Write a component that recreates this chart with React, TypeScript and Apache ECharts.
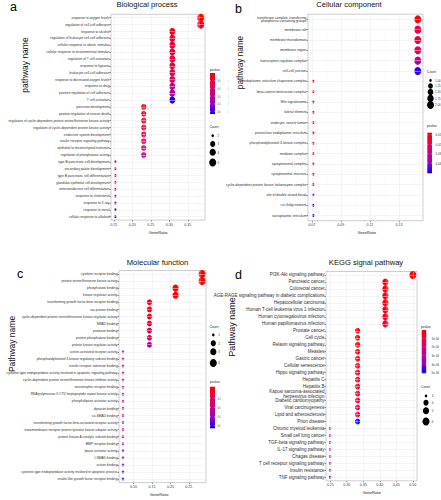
import React, { useEffect, useRef } from 'react';
import * as echarts from 'echarts';

// ---------------- a. Biological process ----------------
const bpTerms = [
  'response to oxygen levels',
  'regulation of cell-cell adhesion',
  'response to alcohol',
  'regulation of leukocyte cell-cell adhesion',
  'cellular response to abiotic stimulus',
  'cellular response to environmental stimulus',
  'regulation of T cell activation',
  'response to hypoxia',
  'leukocyte cell-cell adhesion',
  'response to decreased oxygen levels',
  'response to drug',
  'positive regulation of cell adhesion',
  'T cell activation',
  'pancreas development',
  'positive regulation of neuron death',
  'regulation of cyclin-dependent protein serine/threonine kinase activity',
  'regulation of cyclin-dependent protein kinase activity',
  'endocrine system development',
  'insulin receptor signaling pathway',
  'epithelial to mesenchymal transition',
  'regulation of phosphatase activity',
  'type B pancreatic cell development',
  'secondary palate development',
  'type B pancreatic cell differentiation',
  'glandular epithelial cell development',
  'enteroendocrine cell differentiation',
  'response to cholesterol',
  'response to X-ray',
  'response to sterol',
  'cellular response to alkaloid',
];
const bpGeneRatio = [
  0.385, 0.385,
  0.308, 0.308, 0.308, 0.308, 0.308, 0.308, 0.308, 0.308, 0.308, 0.308, 0.308,
  0.231, 0.231, 0.231, 0.231, 0.231, 0.231, 0.231, 0.231,
  0.154, 0.154, 0.154, 0.154, 0.154, 0.154, 0.154, 0.154, 0.154,
];
const bpCount = [
  5, 5,
  4, 4, 4, 4, 4, 4, 4, 4, 4, 4, 4,
  3, 3, 3, 3, 3, 3, 3, 3,
  2, 2, 2, 2, 2, 2, 2, 2, 2,
];
const bpPvalue = [
  1.2e-6, 2.2e-5,
  3.3e-5, 4.1e-5, 4.9e-5, 4.9e-5, 5.4e-5, 5.9e-5, 6.7e-5, 8.0e-5, 1.28e-4, 1.65e-4, 2.52e-4,
  1.9e-5, 2.2e-5, 3.3e-5, 4.1e-5, 5.4e-5, 7.5e-5, 9.3e-5, 1.65e-4,
  9.3e-5, 1.01e-4, 1.07e-4, 1.2e-4, 1.28e-4, 1.65e-4, 1.86e-4, 2.44e-4, 2.65e-4,
];
const bpPRange = [1.2e-6, 2.65e-4];
const bpTicks = [0.15, 0.2, 0.25, 0.3, 0.35];
const bpTickLabels = ['0.15', '0.20', '0.25', '0.30', '0.35'];
const bpMinor = [0.175, 0.225, 0.275, 0.325, 0.375];
const bpCountBreaks = [2, 3, 4, 5];
const bpCountLabels = ['2', '3', '4', '5'];
const bpPBreaks = [5e-5, 1e-4, 1.5e-4, 2e-4, 2.5e-4];
const bpPLabels = ['0.00005', '0.00010', '0.00015', '0.00020', '0.00025'];

// ---------------- b. Cellular component ----------------
const ccTerms = [
  'transferase complex, transferring\nphosphorus-containing groups',
  'membrane raft',
  'membrane microdomain',
  'membrane region',
  'transcription regulator complex',
  'cell-cell junction',
  'endoplasmic reticulum chaperone complex',
  'beta-catenin destruction complex',
  'Wnt signalosome',
  'lateral element',
  'endocytic vesicle lumen',
  'perinuclear endoplasmic reticulum',
  'phosphatidylinositol 3-kinase complex',
  'mediator complex',
  'synaptonemal complex',
  'synaptonemal structure',
  'cyclin-dependent protein kinase holoenzyme complex',
  'site of double-strand break',
  'cis-Golgi network',
  'sarcoplasmic reticulum',
];
const ccGeneRatio = [
  0.143, 0.143, 0.143, 0.143, 0.143, 0.143,
  0.071, 0.071, 0.071, 0.071, 0.071, 0.071, 0.071, 0.071, 0.071, 0.071, 0.071, 0.071, 0.071, 0.071,
];
const ccCount = [2, 2, 2, 2, 2, 2, 1, 1, 1, 1, 1, 1, 1, 1, 1, 1, 1, 1, 1, 1];
const ccPvalue = [
  0.0089, 0.0162, 0.0162, 0.0196, 0.0334, 0.0472,
  0.0076, 0.0085, 0.0093, 0.0093, 0.0102, 0.0119, 0.0141, 0.0184, 0.0205, 0.0205, 0.0227, 0.0377, 0.0484, 0.0506,
];
const ccPRange = [0.0076, 0.0506];
const ccTicks = [0.07, 0.09, 0.11, 0.13];
const ccTickLabels = ['0.07', '0.09', '0.11', '0.13'];
const ccMinor = [0.08, 0.1, 0.12, 0.14];
const ccCountBreaks = [1, 1.25, 1.5, 1.75, 2];
const ccCountLabels = ['1.00', '1.25', '1.50', '1.75', '2.00'];
const ccPBreaks = [0.01, 0.02, 0.03, 0.04];
const ccPLabels = ['0.01', '0.02', '0.03', '0.04'];

// ---------------- c. Molecular function ----------------
const mfTerms = [
  'cytokine receptor binding',
  'protein serine/threonine kinase activity',
  'phosphatase binding',
  'kinase regulator activity',
  'transforming growth factor beta receptor binding',
  'tau protein binding',
  'cyclin-dependent protein serine/threonine kinase regulator activity',
  'SMAD binding',
  'protease binding',
  'protein phosphatase binding',
  'protein kinase regulator activity',
  'activin-activated receptor activity',
  'phosphatidylinositol 3-kinase regulatory subunit binding',
  'insulin receptor substrate binding',
  'cysteine-type endopeptidase activity involved in apoptotic signaling pathway',
  'cyclin-dependent protein serine/threonine kinase inhibitor activity',
  'neurotrophin receptor binding',
  'RNA polymerase II CTD heptapeptide repeat kinase activity',
  'phospholipase activator activity',
  'dynactin binding',
  'co-SMAD binding',
  'transforming growth factor beta-activated receptor activity',
  'transmembrane receptor protein tyrosine kinase adaptor activity',
  'protein kinase A catalytic subunit binding',
  'BMP receptor binding',
  'lipase activator activity',
  'I-SMAD binding',
  'activin binding',
  'cysteine-type endopeptidase activity involved in apoptotic process',
  'insulin-like growth factor receptor binding',
];
const mfGeneRatio = [
  0.286, 0.286, 0.214, 0.214,
  0.143, 0.143, 0.143, 0.143, 0.143, 0.143, 0.143,
  0.071, 0.071, 0.071, 0.071, 0.071, 0.071, 0.071, 0.071, 0.071, 0.071,
  0.071, 0.071, 0.071, 0.071, 0.071, 0.071, 0.071, 0.071, 0.071,
];
const mfCount = [
  4, 4, 3, 3,
  2, 2, 2, 2, 2, 2, 2,
  1, 1, 1, 1, 1, 1, 1, 1, 1, 1, 1, 1, 1, 1, 1, 1, 1, 1, 1,
];
const mfPvalue = [
  0.0074, 0.0083, 0.0083, 0.0092,
  0.0101, 0.011, 0.0119, 0.0128, 0.0187, 0.0210, 0.0345,
  0.0255, 0.0255, 0.0264, 0.0277, 0.0300, 0.0309, 0.0323, 0.0345, 0.0345,
  0.0354, 0.0368, 0.0368, 0.0381, 0.0390, 0.0399, 0.0426, 0.0458, 0.0481, 0.0526,
];
const mfPRange = [0.0074, 0.0526];
const mfTicks = [0.1, 0.15, 0.2, 0.25];
const mfTickLabels = ['0.10', '0.15', '0.20', '0.25'];
const mfMinor = [0.075, 0.125, 0.175, 0.225, 0.275];
const mfCountBreaks = [1, 2, 3, 4];
const mfCountLabels = ['1', '2', '3', '4'];
const mfPBreaks = [0.02, 0.03, 0.04, 0.05];
const mfPLabels = ['0.02', '0.03', '0.04', '0.05'];

// ---------------- d. KEGG signal pathway ----------------
const kgTerms = [
  'PI3K-Akt signaling pathway',
  'Pancreatic cancer',
  'Colorectal cancer',
  'AGE-RAGE signaling pathway in diabetic complications',
  'Hepatocellular carcinoma',
  'Human T-cell leukemia virus 1 infection',
  'Human cytomegalovirus infection',
  'Human papillomavirus infection',
  'Prostate cancer',
  'Cell cycle',
  'Relaxin signaling pathway',
  'Measles',
  'Gastric cancer',
  'Cellular senescence',
  'Hippo signaling pathway',
  'Hepatitis C',
  'Hepatitis B',
  'Kaposi sarcoma-associated\nherpesvirus infection',
  'Diabetic cardiomyopathy',
  'Viral carcinogenesis',
  'Lipid and atherosclerosis',
  'Prion disease',
  'Chronic myeloid leukemia',
  'Small cell lung cancer',
  'TGF-beta signaling pathway',
  'IL-17 signaling pathway',
  'Chagas disease',
  'T cell receptor signaling pathway',
  'Insulin resistance',
  'TNF signaling pathway',
];
const kgGeneRatio = [
  0.5,
  0.417, 0.417, 0.417, 0.417, 0.417, 0.417, 0.417,
  0.333, 0.333, 0.333, 0.333, 0.333, 0.333, 0.333, 0.333, 0.333, 0.333, 0.333, 0.333, 0.333, 0.333,
  0.25, 0.25, 0.25, 0.25, 0.25, 0.25, 0.25, 0.25,
];
const kgCount = [
  6,
  5, 5, 5, 5, 5, 5, 5,
  4, 4, 4, 4, 4, 4, 4, 4, 4, 4, 4, 4, 4, 4,
  3, 3, 3, 3, 3, 3, 3, 3,
];
const kgPvalue = [
  1.2e-6,
  1.6e-5, 2.1e-5, 2.6e-5, 3.1e-5, 4.1e-5, 5.2e-5, 9.2e-5,
  1.1e-5, 1.6e-5, 2.1e-5, 2.6e-5, 3.1e-5, 3.6e-5, 4.1e-5, 5.2e-5, 5.2e-5, 7.7e-5, 9.2e-5, 1.02e-4, 1.27e-4, 5.07e-4,
  1.53e-4, 1.93e-4, 2.54e-4, 2.64e-4, 3.05e-4, 3.3e-4, 3.65e-4, 4.66e-4,
];
const kgPRange = [1.2e-6, 5.07e-4];
const kgTicks = [0.25, 0.3, 0.35, 0.4, 0.45, 0.5];
const kgTickLabels = ['0.25', '0.30', '0.35', '0.40', '0.45', '0.50'];
const kgMinor = [0.275, 0.325, 0.375, 0.425, 0.475];
const kgCountBreaks = [3, 4, 5, 6];
const kgCountLabels = ['3', '4', '5', '6'];
const kgPBreaks = [1e-4, 2e-4, 3e-4, 4e-4, 5e-4];
const kgPLabels = ['1e-04', '2e-04', '3e-04', '4e-04', '5e-04'];

// ---------------- styling ----------------
const RAMP = ['#FF0000', '#E80050', '#C90089', '#9A00C2', '#0000FF'];
const FONT = "'Liberation Sans', Arial, sans-serif";
const R_MIN = 2.5;
const R_MAX = 7.0;
const ELONG = 1.15;

const panels = [
  {
    terms: bpTerms, ratio: bpGeneRatio, count: bpCount, p: bpPvalue, pRange: bpPRange,
    ticks: bpTicks, tickLabels: bpTickLabels, minor: bpMinor,
    countBreaks: bpCountBreaks, countLabels: bpCountLabels, pBreaks: bpPBreaks, pLabels: bpPLabels,
    L: {
      grid: { left: 111, top: 14.3, width: 94, height: 205.8 }, labelSize: 3.3,
      title: { text: 'Biological process', x: 147, y: 4.5 },
      letter: { text: 'a', x: 13.5, y: 7 },
      yName: { text: 'pathway name', x: 25, y: 65, size: 8.5 },
      xName: { x: 158, y: 232.7 },
      pbar: { titleX: 210, titleY: 69.5, x: 210, y: 73, w: 5, h: 41, labelX: 217.8 },
      cnt: { titleX: 209.5, titleY: 127, dotX: 212.7, dotY: [135.7, 144, 152.2, 162.5], labelX: 217.5 },
    },
  },
  {
    terms: ccTerms, ratio: ccGeneRatio, count: ccCount, p: ccPvalue, pRange: ccPRange,
    ticks: ccTicks, tickLabels: ccTickLabels, minor: ccMinor,
    countBreaks: ccCountBreaks, countLabels: ccCountLabels, pBreaks: ccPBreaks, pLabels: ccPLabels,
    L: {
      grid: { left: 308, top: 14.2, width: 115, height: 206.5 }, labelSize: 3.4,
      title: { text: 'Cellular component', x: 349, y: 4.5 },
      letter: { text: 'b', x: 238.5, y: 9 },
      yName: { text: 'pathway name', x: 240, y: 62.5, size: 8.2 },
      xName: { x: 366.7, y: 232.7 },
      pbar: { titleX: 427, titleY: 125.5, x: 427.3, y: 132.7, w: 4.7, h: 40.6, labelX: 435.5 },
      cnt: { titleX: 427, titleY: 72, dotX: 430.5, dotY: [80.5, 86, 92, 98.5, 105], labelX: 435 },
    },
  },
  {
    terms: mfTerms, ratio: mfGeneRatio, count: mfCount, p: mfPvalue, pRange: mfPRange,
    ticks: mfTicks, tickLabels: mfTickLabels, minor: mfMinor,
    countBreaks: mfCountBreaks, countLabels: mfCountLabels, pBreaks: mfPBreaks, pLabels: mfPLabels,
    L: {
      grid: { left: 119, top: 270.5, width: 87, height: 212.1 }, labelSize: 3.3,
      title: { text: 'Molecular function', x: 157.5, y: 262 },
      letter: { text: 'c', x: 20, y: 274 },
      yName: { text: 'Pathway name', x: 11.5, y: 344, size: 8.5 },
      xName: { x: 159, y: 494 },
      pbar: { titleX: 210, titleY: 382, x: 210, y: 386.7, w: 5, h: 41.6, labelX: 217.8 },
      cnt: { titleX: 209.5, titleY: 326.5, dotX: 213.3, dotY: [335, 343.3, 351.7, 363], labelX: 218.3 },
    },
  },
  {
    terms: kgTerms, ratio: kgGeneRatio, count: kgCount, p: kgPvalue, pRange: kgPRange,
    ticks: kgTicks, tickLabels: kgTickLabels, minor: kgMinor,
    countBreaks: kgCountBreaks, countLabels: kgCountLabels, pBreaks: kgPBreaks, pLabels: kgPLabels,
    L: {
      grid: { left: 326, top: 271.5, width: 91, height: 209.3 }, labelSize: 4.5,
      title: { text: 'KEGG signal pathway', x: 366, y: 262.7 },
      letter: { text: 'd', x: 238.5, y: 275 },
      yName: { text: 'Pathway name', x: 232, y: 327, size: 9 },
      xName: { x: 371.7, y: 492.7 },
      pbar: { titleX: 421, titleY: 326.7, x: 421.7, y: 330, w: 4.5, h: 43.3, labelX: 431.5 },
      cnt: { titleX: 421, titleY: 386.7, dotX: 426, dotY: [396, 402.7, 410.7, 421.5], labelX: 431.7 },
    },
  },
];

function sizeFor(c: number, lo: number, hi: number) {
  const t = hi > lo ? (c - lo) / (hi - lo) : 1;
  return R_MIN + (R_MAX - R_MIN) * Math.sqrt(Math.max(0, t));
}

function buildOption() {
  const grids: any[] = [];
  const xAxes: any[] = [];
  const yAxes: any[] = [];
  const visualMaps: any[] = [];
  const dotSeries: any[] = [];
  const lineSeries: any[] = [];
  const g1: any[] = [];
  const g2: any[] = [];

  panels.forEach((P, k) => {
    const L = P.L;
    const lo = Math.min(...P.ratio);
    const hi = Math.max(...P.ratio);
    const pad = (hi - lo) * 0.05;
    const cLo = Math.min(...P.countBreaks);
    const cHi = Math.max(...P.countBreaks);

    grids.push({
      ...L.grid, show: true, borderColor: '#ABABAB', borderWidth: 0.6,
      backgroundColor: 'transparent', containLabel: false,
    });
    xAxes.push({
      type: 'value', gridIndex: k, min: lo - pad, max: hi + pad,
      axisLine: { show: false },
      splitLine: { show: false },
      minorSplitLine: { show: false },
      axisTick: { show: true, customValues: P.ticks, length: 1.5, lineStyle: { color: '#333', width: 0.5 } },
      axisLabel: {
        customValues: P.ticks,
        formatter: (v: number) => {
          const i = P.ticks.findIndex((t) => Math.abs(t - v) < 1e-9);
          return i >= 0 ? P.tickLabels[i] : '';
        },
        fontSize: 3.6, fontFamily: FONT, color: '#3A3A3A', margin: 2.5,
      },
    });
    yAxes.push({
      type: 'category', gridIndex: k, data: P.terms, inverse: true,
      axisLine: { show: false },
      splitLine: { show: false },
      axisTick: { show: true, alignWithLabel: true, length: 1.5, lineStyle: { color: '#333', width: 0.5 } },
      axisLabel: {
        interval: 0, fontSize: L.labelSize, lineHeight: L.labelSize * 1.1,
        fontFamily: FONT, color: '#2E2E2E', margin: 1.5,
      },
    });
    visualMaps.push({
      type: 'continuous', show: false, seriesIndex: k, dimension: 2,
      min: P.pRange[0], max: P.pRange[1], inRange: { color: RAMP },
    });
    dotSeries.push({
      type: 'scatter', xAxisIndex: k, yAxisIndex: k, z: 3,
      symbol: 'circle',
      symbolSize: (v: any) => {
        const w = sizeFor(v[3], cLo, cHi);
        return [w, w * ELONG];
      },
      itemStyle: { opacity: 1 },
      data: P.terms.map((t, i) => [P.ratio[i], t, P.p[i], P.count[i]]),
    });
    const major = { color: '#EBEBEB', width: 0.5, type: 'solid' };
    const minorS = { color: '#F4F4F4', width: 0.4, type: 'solid' };
    lineSeries.push({
      type: 'scatter', xAxisIndex: k, yAxisIndex: k, z: 1, silent: true, data: [],
      markLine: {
        silent: true, symbol: ['none', 'none'], label: { show: false },
        animation: false,
        data: [
          ...P.minor.map((v) => ({ xAxis: v, lineStyle: minorS })),
          ...P.ticks.map((v) => ({ xAxis: v, lineStyle: major })),
          ...P.terms.map((t) => ({ yAxis: t, lineStyle: major })),
        ],
      },
    });

    // texts
    const target = k === 0 || k === 2 ? g1 : g2;
    target.push({
      type: 'text', x: L.title.x, y: L.title.y,
      style: { text: L.title.text, fontSize: 7.6, fontFamily: FONT, fill: '#111', align: 'center', verticalAlign: 'middle' },
    });
    target.push({
      type: 'text', x: L.letter.x, y: L.letter.y,
      style: { text: L.letter.text, fontSize: 12.5, fontFamily: FONT, fill: '#000', align: 'center', verticalAlign: 'middle' },
    });
    target.push({
      type: 'text', x: L.xName.x, y: L.xName.y,
      style: { text: 'GeneRatio', fontSize: 3.9, fontFamily: FONT, fill: '#222', align: 'center', verticalAlign: 'middle' },
    });
    // colour bar legend
    const B = L.pbar;
    target.push({
      type: 'text', x: B.titleX, y: B.titleY,
      style: { text: 'pvalue', fontSize: 3.3, fontFamily: FONT, fill: '#222', align: 'left', verticalAlign: 'middle' },
    });
    target.push({
      type: 'rect', shape: { x: B.x, y: B.y, width: B.w, height: B.h },
      style: {
        fill: new echarts.graphic.LinearGradient(0, 0, 0, 1, RAMP.map((c, i) => ({ offset: i / (RAMP.length - 1), color: c }))),
      },
    });
    P.pBreaks.forEach((pb, i) => {
      const yy = B.y + ((pb - P.pRange[0]) / (P.pRange[1] - P.pRange[0])) * B.h;
      target.push({ type: 'line', shape: { x1: B.x, y1: yy, x2: B.x + 1, y2: yy }, style: { stroke: '#fff', lineWidth: 0.4 } });
      target.push({ type: 'line', shape: { x1: B.x + B.w - 1, y1: yy, x2: B.x + B.w, y2: yy }, style: { stroke: '#fff', lineWidth: 0.4 } });
      target.push({
        type: 'text', x: B.labelX, y: yy,
        style: { text: P.pLabels[i], fontSize: 2.9, fontFamily: FONT, fill: '#333', align: 'left', verticalAlign: 'middle' },
      });
    });
    // count legend
    const C = L.cnt;
    target.push({
      type: 'text', x: C.titleX, y: C.titleY,
      style: { text: 'Count', fontSize: 3.3, fontFamily: FONT, fill: '#222', align: 'left', verticalAlign: 'middle' },
    });
    P.countBreaks.forEach((cb, i) => {
      const w = sizeFor(cb, cLo, cHi);
      target.push({ type: 'ellipse', shape: { cx: C.dotX, cy: C.dotY[i], rx: w / 2, ry: (w * ELONG) / 2 }, style: { fill: '#000' } });
      target.push({
        type: 'text', x: C.labelX, y: C.dotY[i],
        style: { text: P.countLabels[i], fontSize: 2.9, fontFamily: FONT, fill: '#333', align: 'left', verticalAlign: 'middle' },
      });
    });
  });

  // the left-hand panels' legends are cut off by the right-hand panels
  const clip = [
    { type: 'rect', shape: { x: 220.6, y: 66, width: 7.5, height: 52 }, style: { fill: '#fff' } },
    { type: 'rect', shape: { x: 220.6, y: 388, width: 9, height: 45 }, style: { fill: '#fff' } },
  ];

  const yNames = panels.map((P) => ({
    type: 'text', x: P.L.yName.x, y: P.L.yName.y, rotation: Math.PI / 2,
    style: { text: P.L.yName.text, fontSize: P.L.yName.size, fontFamily: FONT, fill: '#111', align: 'center', verticalAlign: 'middle' },
  }));

  return {
    animation: false,
    backgroundColor: '#FFFFFF',
    grid: grids,
    xAxis: xAxes,
    yAxis: yAxes,
    visualMap: visualMaps,
    series: [...dotSeries, ...lineSeries],
    graphic: { elements: [...g1, ...clip, ...g2, ...yNames] },
  };
}

export default function App() {
  const ref = useRef<HTMLDivElement>(null);
  useEffect(() => {
    if (!ref.current) return;
    const chart = echarts.init(ref.current, null, { renderer: 'svg' });
    chart.setOption(buildOption() as any);
    return () => chart.dispose();
  }, []);
  return (
    <div
      ref={ref}
      style={{ position: 'absolute', left: 0, top: 0, width: 441, height: 500, background: '#fff' }}
    />
  );
}
